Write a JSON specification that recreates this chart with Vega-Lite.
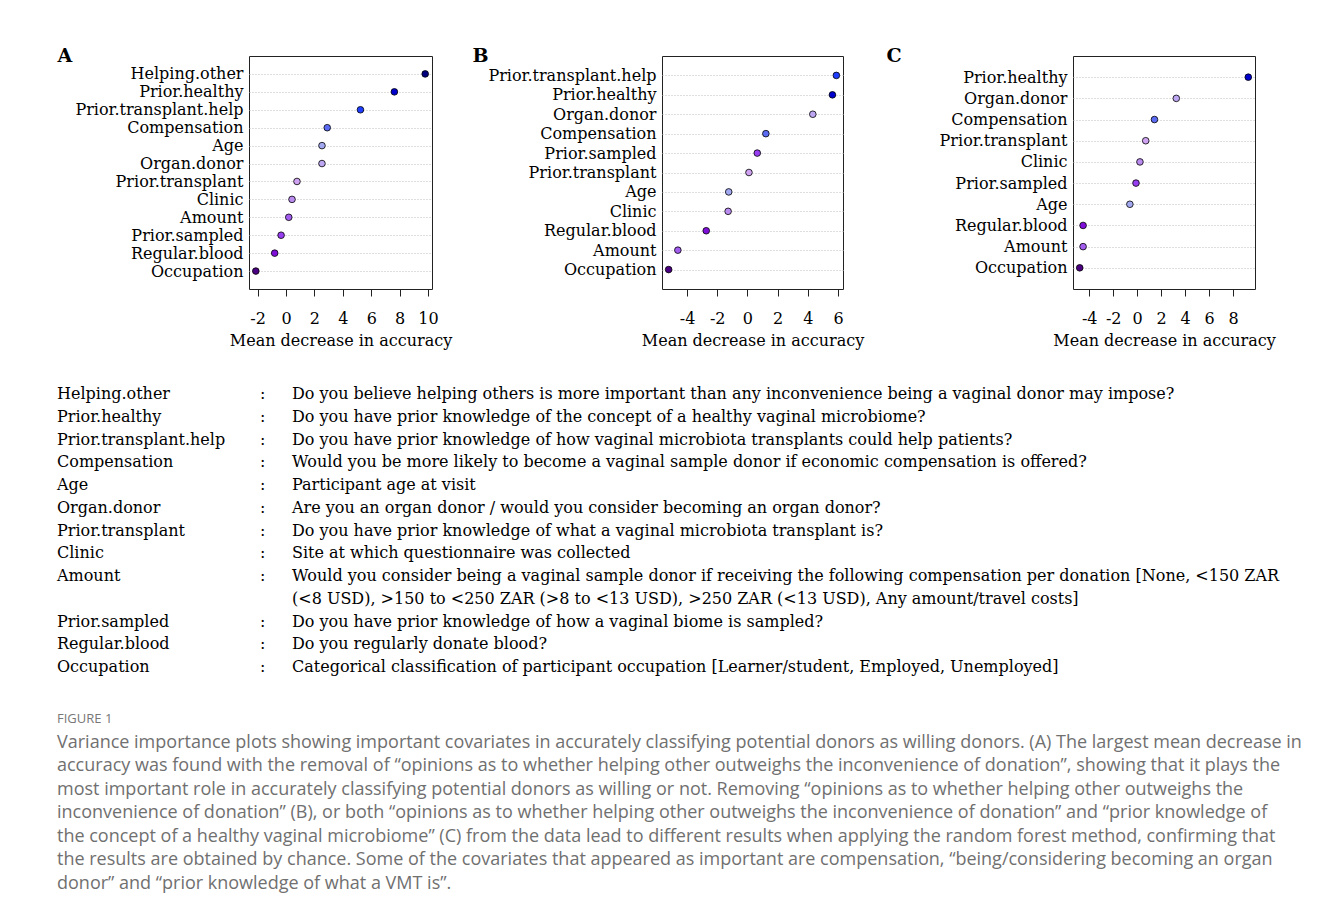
{
  "$schema": "https://vega.github.io/schema/vega-lite/v6.json",
  "background": "white",
  "autosize": {"type": "pad"},
  "padding": {"left": 56, "top": 45, "right": 0, "bottom": 0},
  "config": {"view": {"stroke": null}, "font": "DejaVu Serif"},
  "datasets": {
    "dots": [
      {"panel": "A", "variable": "Helping.other", "value": 9.80},
      {"panel": "A", "variable": "Prior.healthy", "value": 7.63},
      {"panel": "A", "variable": "Prior.transplant.help", "value": 5.24},
      {"panel": "A", "variable": "Compensation", "value": 2.90},
      {"panel": "A", "variable": "Age", "value": 2.53},
      {"panel": "A", "variable": "Organ.donor", "value": 2.53},
      {"panel": "A", "variable": "Prior.transplant", "value": 0.77},
      {"panel": "A", "variable": "Clinic", "value": 0.42},
      {"panel": "A", "variable": "Amount", "value": 0.19},
      {"panel": "A", "variable": "Prior.sampled", "value": -0.35},
      {"panel": "A", "variable": "Regular.blood", "value": -0.80},
      {"panel": "A", "variable": "Occupation", "value": -2.13},
      {"panel": "B", "variable": "Prior.transplant.help", "value": 5.89},
      {"panel": "B", "variable": "Prior.healthy", "value": 5.63},
      {"panel": "B", "variable": "Organ.donor", "value": 4.33},
      {"panel": "B", "variable": "Compensation", "value": 1.22},
      {"panel": "B", "variable": "Prior.sampled", "value": 0.65},
      {"panel": "B", "variable": "Prior.transplant", "value": 0.10},
      {"panel": "B", "variable": "Age", "value": -1.24},
      {"panel": "B", "variable": "Clinic", "value": -1.28},
      {"panel": "B", "variable": "Regular.blood", "value": -2.73},
      {"panel": "B", "variable": "Amount", "value": -4.61},
      {"panel": "B", "variable": "Occupation", "value": -5.22},
      {"panel": "C", "variable": "Prior.healthy", "value": 9.26},
      {"panel": "C", "variable": "Organ.donor", "value": 3.26},
      {"panel": "C", "variable": "Compensation", "value": 1.44},
      {"panel": "C", "variable": "Prior.transplant", "value": 0.71},
      {"panel": "C", "variable": "Clinic", "value": 0.23},
      {"panel": "C", "variable": "Prior.sampled", "value": -0.10},
      {"panel": "C", "variable": "Age", "value": -0.61},
      {"panel": "C", "variable": "Regular.blood", "value": -4.51},
      {"panel": "C", "variable": "Amount", "value": -4.51},
      {"panel": "C", "variable": "Occupation", "value": -4.79}
    ],
    "table": [
      {"row": 0, "name": "Helping.other", "colon": ":", "desc": "Do you believe helping others is more important than any inconvenience being a vaginal donor may impose?"},
      {"row": 1, "name": "Prior.healthy", "colon": ":", "desc": "Do you have prior knowledge of the concept of a healthy vaginal microbiome?"},
      {"row": 2, "name": "Prior.transplant.help", "colon": ":", "desc": "Do you have prior knowledge of how vaginal microbiota transplants could help patients?"},
      {"row": 3, "name": "Compensation", "colon": ":", "desc": "Would you be more likely to become a vaginal sample donor if economic compensation is offered?"},
      {"row": 4, "name": "Age", "colon": ":", "desc": "Participant age at visit"},
      {"row": 5, "name": "Organ.donor", "colon": ":", "desc": "Are you an organ donor / would you consider becoming an organ donor?"},
      {"row": 6, "name": "Prior.transplant", "colon": ":", "desc": "Do you have prior knowledge of what a vaginal microbiota transplant is?"},
      {"row": 7, "name": "Clinic", "colon": ":", "desc": "Site at which questionnaire was collected"},
      {"row": 8, "name": "Amount", "colon": ":", "desc": "Would you consider being a vaginal sample donor if receiving the following compensation per donation [None,  <150 ZAR"},
      {"row": 9, "name": "", "colon": "", "desc": "(<8 USD), >150 to <250 ZAR (>8 to <13 USD), >250 ZAR (<13 USD), Any amount/travel costs]"},
      {"row": 10, "name": "Prior.sampled", "colon": ":", "desc": "Do you have prior knowledge of how a vaginal biome is sampled?"},
      {"row": 11, "name": "Regular.blood", "colon": ":", "desc": "Do you regularly donate blood?"},
      {"row": 12, "name": "Occupation", "colon": ":", "desc": "Categorical classification of participant occupation [Learner/student, Employed, Unemployed]"}
    ],
    "caption": [
      {"row": 0, "kind": "head", "line": "FIGURE 1"},
      {"row": 1, "kind": "body", "line": "Variance importance plots showing important covariates in accurately classifying potential donors as willing donors. (A) The largest mean decrease in"},
      {"row": 2, "kind": "body", "line": "accuracy was found with the removal of “opinions as to whether helping other outweighs the inconvenience of donation”, showing that it plays the"},
      {"row": 3, "kind": "body", "line": "most important role in accurately classifying potential donors as willing or not. Removing “opinions as to whether helping other outweighs the"},
      {"row": 4, "kind": "body", "line": "inconvenience of donation” (B), or both “opinions as to whether helping other outweighs the inconvenience of donation” and “prior knowledge of"},
      {"row": 5, "kind": "body", "line": "the concept of a healthy vaginal microbiome” (C) from the data lead to different results when applying the random forest method, confirming that"},
      {"row": 6, "kind": "body", "line": "the results are obtained by chance. Some of the covariates that appeared as important are compensation, “being/considering becoming an organ"},
      {"row": 7, "kind": "body", "line": "donor” and “prior knowledge of what a VMT is”."}
    ]
  },
  "spacing": 37,
  "vconcat": [
    {
      "hconcat": [
        {"width": 1, "height": 233, "data": {"values": []}, "mark": "point"},
        {
          "hconcat": [
            {
              "width": 183, "height": 233,
              "view": {"stroke": "#222", "strokeWidth": 1},
              "data": {"name": "dots"},
              "transform": [{"filter": "datum.panel === 'A'"}],
              "mark": {"type": "point", "shape": "circle", "filled": true, "size": 44, "stroke": "black", "strokeWidth": 0.8, "opacity": 1},
              "encoding": {
                "y": {"field": "variable", "type": "nominal", "sort": null, "scale": {"type": "point", "padding": 1},
                  "axis": {"title": "A", "titleAngle": 0, "titleX": -192, "titleY": -1, "titleAlign": "left", "titleBaseline": "middle", "titleFont": "DejaVu Serif", "titleFontSize": 19, "titleFontWeight": "bold", "titleColor": "black",
                    "labelFont": "DejaVu Serif", "labelFontSize": 16, "labelColor": "black", "labelPadding": 6, "labelOverlap": false, "ticks": false, "domain": false, "grid": true, "gridDash": [1, 2], "gridColor": "#bdbdbd", "gridWidth": 1}},
                "x": {"field": "value", "type": "quantitative", "scale": {"domain": [-2.61, 10.28], "nice": false, "zero": false},
                  "axis": {"title": "Mean decrease in accuracy", "values": [-2, 0, 2, 4, 6, 8, 10], "labelExpr": "'' + datum.value", "grid": false, "domain": false, "tickColor": "#222", "tickSize": 7, "labelFont": "DejaVu Serif", "labelFontSize": 16, "labelColor": "black", "labelPadding": 14, "labelOverlap": false, "labelFlush": false, "titleFont": "DejaVu Serif", "titleFontSize": 16, "titleFontWeight": "normal", "titleColor": "black", "titlePadding": 6}},
                "color": {"field": "variable", "type": "nominal", "legend": null,
                  "scale": {"domain": ["Helping.other", "Prior.healthy", "Prior.transplant.help", "Compensation", "Age", "Organ.donor", "Prior.transplant", "Clinic", "Amount", "Prior.sampled", "Regular.blood", "Occupation"],
                    "range": ["#00007f", "#0000cc", "#1f3dff", "#5b6cf2", "#a3a9f0", "#bda6f2", "#cfa3f2", "#bb8cf0", "#a35ef0", "#963ef0", "#7f0fd8", "#4b0082"]}}
              }
            },
            {
              "width": 181, "height": 233,
              "view": {"stroke": "#222", "strokeWidth": 1},
              "data": {"name": "dots"},
              "transform": [{"filter": "datum.panel === 'B'"}],
              "mark": {"type": "point", "shape": "circle", "filled": true, "size": 44, "stroke": "black", "strokeWidth": 0.8, "opacity": 1},
              "encoding": {
                "y": {"field": "variable", "type": "nominal", "sort": null, "scale": {"type": "point", "padding": 1},
                  "axis": {"title": "B", "titleAngle": 0, "titleX": -190, "titleY": -1, "titleAlign": "left", "titleBaseline": "middle", "titleFont": "DejaVu Serif", "titleFontSize": 19, "titleFontWeight": "bold", "titleColor": "black",
                    "labelFont": "DejaVu Serif", "labelFontSize": 16, "labelColor": "black", "labelPadding": 6, "labelOverlap": false, "ticks": false, "domain": false, "grid": true, "gridDash": [1, 2], "gridColor": "#bdbdbd", "gridWidth": 1}},
                "x": {"field": "value", "type": "quantitative", "scale": {"domain": [-5.66, 6.33], "nice": false, "zero": false},
                  "axis": {"title": "Mean decrease in accuracy", "values": [-4, -2, 0, 2, 4, 6], "labelExpr": "'' + datum.value", "grid": false, "domain": false, "tickColor": "#222", "tickSize": 7, "labelFont": "DejaVu Serif", "labelFontSize": 16, "labelColor": "black", "labelPadding": 14, "labelOverlap": false, "labelFlush": false, "titleFont": "DejaVu Serif", "titleFontSize": 16, "titleFontWeight": "normal", "titleColor": "black", "titlePadding": 6}},
                "color": {"field": "variable", "type": "nominal", "legend": null,
                  "scale": {"domain": ["Helping.other", "Prior.healthy", "Prior.transplant.help", "Compensation", "Age", "Organ.donor", "Prior.transplant", "Clinic", "Amount", "Prior.sampled", "Regular.blood", "Occupation"],
                    "range": ["#00007f", "#0000cc", "#1f3dff", "#5b6cf2", "#a3a9f0", "#bda6f2", "#cfa3f2", "#bb8cf0", "#a35ef0", "#963ef0", "#7f0fd8", "#4b0082"]}}
              }
            },
            {
              "width": 182, "height": 233,
              "view": {"stroke": "#222", "strokeWidth": 1},
              "data": {"name": "dots"},
              "transform": [{"filter": "datum.panel === 'C'"}],
              "mark": {"type": "point", "shape": "circle", "filled": true, "size": 44, "stroke": "black", "strokeWidth": 0.8, "opacity": 1},
              "encoding": {
                "y": {"field": "variable", "type": "nominal", "sort": null, "scale": {"type": "point", "padding": 1},
                  "axis": {"title": "C", "titleAngle": 0, "titleX": -187, "titleY": -1, "titleAlign": "left", "titleBaseline": "middle", "titleFont": "DejaVu Serif", "titleFontSize": 19, "titleFontWeight": "bold", "titleColor": "black",
                    "labelFont": "DejaVu Serif", "labelFontSize": 16, "labelColor": "black", "labelPadding": 6, "labelOverlap": false, "ticks": false, "domain": false, "grid": true, "gridDash": [1, 2], "gridColor": "#bdbdbd", "gridWidth": 1}},
                "x": {"field": "value", "type": "quantitative", "scale": {"domain": [-5.35, 9.82], "nice": false, "zero": false},
                  "axis": {"title": "Mean decrease in accuracy", "values": [-4, -2, 0, 2, 4, 6, 8], "labelExpr": "'' + datum.value", "grid": false, "domain": false, "tickColor": "#222", "tickSize": 7, "labelFont": "DejaVu Serif", "labelFontSize": 16, "labelColor": "black", "labelPadding": 14, "labelOverlap": false, "labelFlush": false, "titleFont": "DejaVu Serif", "titleFontSize": 16, "titleFontWeight": "normal", "titleColor": "black", "titlePadding": 6}},
                "color": {"field": "variable", "type": "nominal", "legend": null,
                  "scale": {"domain": ["Helping.other", "Prior.healthy", "Prior.transplant.help", "Compensation", "Age", "Organ.donor", "Prior.transplant", "Clinic", "Amount", "Prior.sampled", "Regular.blood", "Occupation"],
                    "range": ["#00007f", "#0000cc", "#1f3dff", "#5b6cf2", "#a3a9f0", "#bda6f2", "#cfa3f2", "#bb8cf0", "#a35ef0", "#963ef0", "#7f0fd8", "#4b0082"]}}
              }
            }
          ],
          "bounds": "flush",
          "spacing": 230,
          "resolve": {"scale": {"x": "independent", "y": "independent", "color": "independent"}}
        }
      ],
      "bounds": "flush",
      "spacing": 192
    },
    {
      "vconcat": [
        {
          "hconcat": [
            {
              "width": 2, "height": 273,
              "data": {"name": "table"},
              "mark": {"type": "text", "align": "left", "baseline": "middle", "font": "DejaVu Serif", "fontSize": 16, "color": "black"},
              "encoding": {
                "y": {"field": "row", "type": "ordinal", "scale": {"type": "point", "padding": 0}, "axis": null},
                "text": {"field": "name", "type": "nominal"}
              }
            },
            {
              "hconcat": [
                {
                  "width": 2, "height": 273,
                  "data": {"name": "table"},
                  "mark": {"type": "text", "align": "left", "baseline": "middle", "font": "DejaVu Serif", "fontSize": 16, "color": "black"},
                  "encoding": {
                    "y": {"field": "row", "type": "ordinal", "scale": {"type": "point", "padding": 0}, "axis": null},
                    "text": {"field": "colon", "type": "nominal"}
                  }
                },
                {
                  "width": 2, "height": 273,
                  "data": {"name": "table"},
                  "mark": {"type": "text", "align": "left", "baseline": "middle", "font": "DejaVu Serif", "fontSize": 16, "color": "black"},
                  "encoding": {
                    "y": {"field": "row", "type": "ordinal", "scale": {"type": "point", "padding": 0}, "axis": null},
                    "text": {"field": "desc", "type": "nominal"}
                  }
                }
              ],
              "bounds": "flush",
              "spacing": 30
            }
          ],
          "bounds": "flush",
          "spacing": 201
        },
        {
          "width": 2, "height": 165,
          "data": {"name": "caption"},
          "encoding": {
            "y": {"field": "row", "type": "ordinal", "scale": {"type": "point", "padding": 0}, "axis": null},
            "text": {"field": "line", "type": "nominal"}
          },
          "layer": [
            {
              "transform": [{"filter": "datum.kind === 'head'"}],
              "mark": {"type": "text", "align": "left", "baseline": "middle", "font": "Open Sans", "fontSize": 13, "color": "#777777"}
            },
            {
              "transform": [{"filter": "datum.kind === 'body'"}],
              "mark": {"type": "text", "align": "left", "baseline": "middle", "font": "Open Sans", "fontSize": 18, "color": "#707070"}
            }
          ]
        }
      ],
      "spacing": 38
    }
  ]
}
